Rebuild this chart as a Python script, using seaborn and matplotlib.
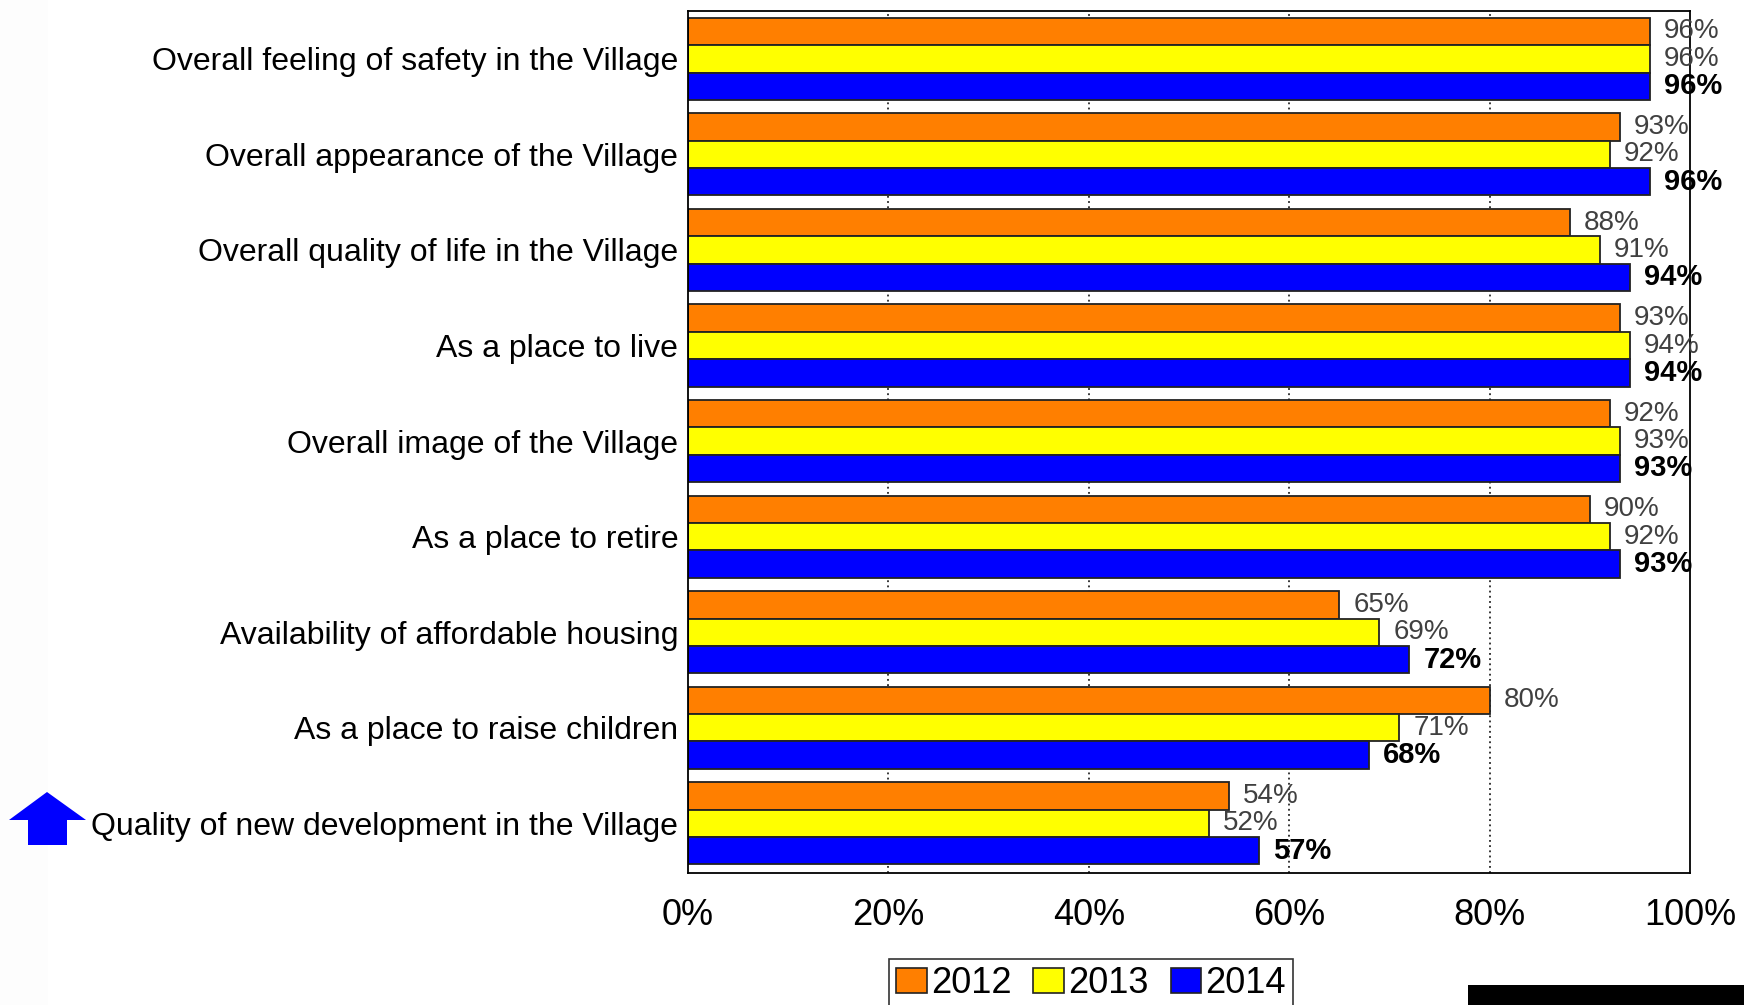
import seaborn as sns
import pandas as pd
import matplotlib.pyplot as plt
from matplotlib.patches import Rectangle, Polygon

# survey items, top to bottom
items = [
    "Overall feeling of safety in the Village",
    "Overall appearance of the Village",
    "Overall quality of life in the Village",
    "As a place to live",
    "Overall image of the Village",
    "As a place to retire",
    "Availability of affordable housing",
    "As a place to raise children",
    "Quality of new development in the Village",
]
years = ["2012", "2013", "2014"]
vals_2012 = [96, 93, 88, 93, 92, 90, 65, 80, 54]
vals_2013 = [96, 92, 91, 94, 93, 92, 69, 71, 52]
vals_2014 = [96, 96, 94, 94, 93, 93, 72, 68, 57]
colors = ["#ff7f00", "#ffff00", "#0000ff"]
x_ticks = [0, 20, 40, 60, 80, 100]

rows = []
for yr, vals in zip(years, [vals_2012, vals_2013, vals_2014]):
    for it, v in zip(items, vals):
        rows.append({"item": it, "year": yr, "value": v})
df = pd.DataFrame(rows)

sns.set_style("white")
plt.rcParams["font.family"] = ["Liberation Sans", "DejaVu Sans"]
plt.rcParams["text.color"] = "black"
plt.rcParams["xtick.color"] = "black"
plt.rcParams["ytick.color"] = "black"
plt.rcParams["hatch.color"] = "#eeeeee"
plt.rcParams["hatch.linewidth"] = 0.7

fig = plt.figure(figsize=(17.44, 10.05), dpi=100)
ax = fig.add_axes([0.3945, 0.1313, 0.5745, 0.8577])

sns.barplot(data=df, x="value", y="item", hue="year", orient="h",
            palette=colors, width=0.86, edgecolor="#222222", linewidth=1.3,
            saturation=1, ax=ax, legend=False)

# value labels, 2014 in bold
for cont, yr in zip(ax.containers, years):
    bold = yr == "2014"
    labs = [f"{int(round(b.get_width()))}%" for b in cont]
    ax.bar_label(cont, labels=labs, padding=10, fontsize=21 if bold else 20,
                 fontweight="bold" if bold else "normal",
                 color="black" if bold else "#404040")

ax.set_xlim(0, 100)
ax.set_ylim(8.52, -0.5)
ax.set_xticks(x_ticks)
ax.set_xticklabels([f"{t}%" for t in x_ticks], fontsize=26)
ax.tick_params(axis="x", length=0, pad=18)
ax.tick_params(axis="y", length=0, pad=7, labelsize=23)
ax.set_xlabel("")
ax.set_ylabel("")
ax.grid(False)
for t in [20, 40, 60, 80]:
    ax.axvline(t, color="black", linestyle=(0, (1.2, 2.2)), linewidth=1.1, zorder=0)
for s in ax.spines.values():
    s.set_visible(True)
    s.set_color("black")
    s.set_linewidth(1.3)

# legend box at the bottom
handles = [Rectangle((0, 0), 1, 1, facecolor=c, edgecolor="#222222", linewidth=1.2)
           for c in colors]
leg = fig.legend(handles, years, loc="upper left", bbox_to_anchor=(0.5097, 0.0458),
                 ncol=3, fontsize=26, frameon=True, fancybox=False,
                 handlelength=0.85, handleheight=0.7, handletextpad=0.12,
                 columnspacing=0.6, borderpad=0.2, borderaxespad=0)
leg.get_frame().set_edgecolor("black")
leg.get_frame().set_linewidth(1.2)

# faint textured strip on the left edge
fig.patches.append(Rectangle((0, 0), 48 / 1744, 1, transform=fig.transFigure,
                             facecolor="#fdfdfd", edgecolor="none", hatch="xx",
                             zorder=0))

# blue up arrow next to the last item
pts = [(47, 792), (86, 820), (67, 820), (67, 845), (28, 845), (28, 820), (9, 820)]
fig.patches.append(Polygon([(x / 1744, 1 - y / 1005) for x, y in pts],
                           closed=True, transform=fig.transFigure,
                           facecolor="#0000ff", edgecolor="none"))

# black bar bottom right
fig.patches.append(Rectangle((1468 / 1744, 0), 1 - 1468 / 1744, 20 / 1005,
                             transform=fig.transFigure, facecolor="black",
                             edgecolor="none"))

fig.savefig("out.png", dpi=100)
